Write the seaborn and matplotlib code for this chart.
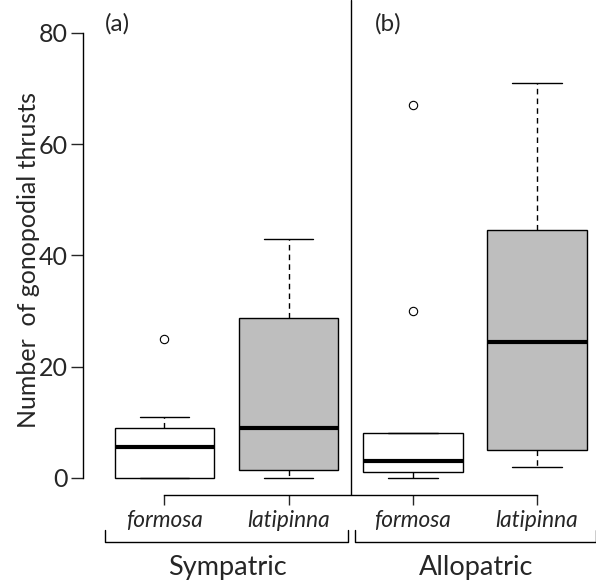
import numpy as np
import pandas as pd
import matplotlib
matplotlib.use("Agg")
import matplotlib.pyplot as plt
import seaborn as sns
from matplotlib.lines import Line2D

# thrust counts per male
sym_formosa = [0, 0, 0, 0, 5, 6, 9, 9, 11, 25]
sym_latipinna = [0, 1, 1, 3, 8, 10, 25, 30, 38, 43]
allo_formosa = [0, 1, 1, 1, 2, 4, 8, 8, 30, 67]
allo_latipinna = [2, 4, 5, 5, 20, 29, 43, 45, 60, 71]

groups = ["Sympatric", "Sympatric", "Allopatric", "Allopatric"]
species = ["formosa", "latipinna", "formosa", "latipinna"]
panel_labels = ["(a)", "(b)"]
y_ticks = [0, 20, 40, 60, 80]

rows = []
for g, sp, vals in zip(groups, species,
                       [sym_formosa, sym_latipinna, allo_formosa, allo_latipinna]):
    for v in vals:
        rows.append({"group": g, "species": sp, "slot": f"{g}-{sp}", "thrusts": v})
df = pd.DataFrame(rows)
order = [f"{g}-{sp}" for g, sp in zip(groups, species)]

sns.set_style("white")
plt.rcParams["font.family"] = ["Lato", "DejaVu Sans"]

fig = plt.figure(figsize=(5.96, 5.85), dpi=100)
ax = fig.add_axes([83 / 596, 90 / 585, 1 - 83 / 596, 495 / 585])

sns.boxplot(data=df, x="slot", y="thrusts", hue="species", order=order,
            palette={"formosa": "white", "latipinna": "#bebebe"},
            dodge=False, legend=False, width=0.8, whis=1.5, ax=ax,
            linecolor="black", linewidth=1,
            boxprops=dict(edgecolor="black"),
            whiskerprops=dict(linestyle=(0, (4, 3)), color="black"),
            capprops=dict(color="black"),
            medianprops=dict(color="black", linewidth=3),
            flierprops=dict(marker="o", markerfacecolor="none",
                            markeredgecolor="black", markersize=6,
                            markeredgewidth=0.8))

ax.set_xlim(-0.656, 3.475)
ax.set_ylim(-3.06, 85.93)
ax.axvline(1.5, color="black", lw=1)

for s in ["top", "right"]:
    ax.spines[s].set_visible(False)
ax.spines["left"].set_bounds(0, 80)
ax.spines["bottom"].set_bounds(0, 3)
for s in ["left", "bottom"]:
    ax.spines[s].set_color("black")
    ax.spines[s].set_linewidth(1)

ax.set_yticks(y_ticks)
ax.set_xticks(range(4))
ax.set_xticklabels(species, fontstyle="italic", fontsize=16.3)
ax.tick_params(axis="y", labelsize=18, length=9, width=1, direction="out",
               left=True, pad=2)
ax.tick_params(axis="x", length=7, width=1, direction="out", bottom=True, pad=4)
ax.set_xlabel("")
ax.set_ylabel("Number  of gonopodial thrusts", fontsize=18, va="center")
ax.yaxis.set_label_coords(-0.107, (495 - 260) / 495)

ax.text(-0.479, 81.6, panel_labels[0], fontsize=17.5, va="center")
ax.text(1.695, 81.6, panel_labels[1], fontsize=17.5, va="center")

# group brackets below the axis
yb, yt = 1 - 542 / 585, 1 - 530 / 585
for x0, x1 in [(105 / 596, 348 / 596), (355 / 596, 1.0)]:
    fig.add_artist(Line2D([x0, x0, x1, x1], [yt, yb, yb, yt], color="black", lw=1))
fig.text(227 / 596, 1 - 567 / 585, "Sympatric", ha="center", va="center", fontsize=19.5)
fig.text(476 / 596, 1 - 567 / 585, "Allopatric", ha="center", va="center", fontsize=19.5)

fig.savefig("out.png", dpi=100)
